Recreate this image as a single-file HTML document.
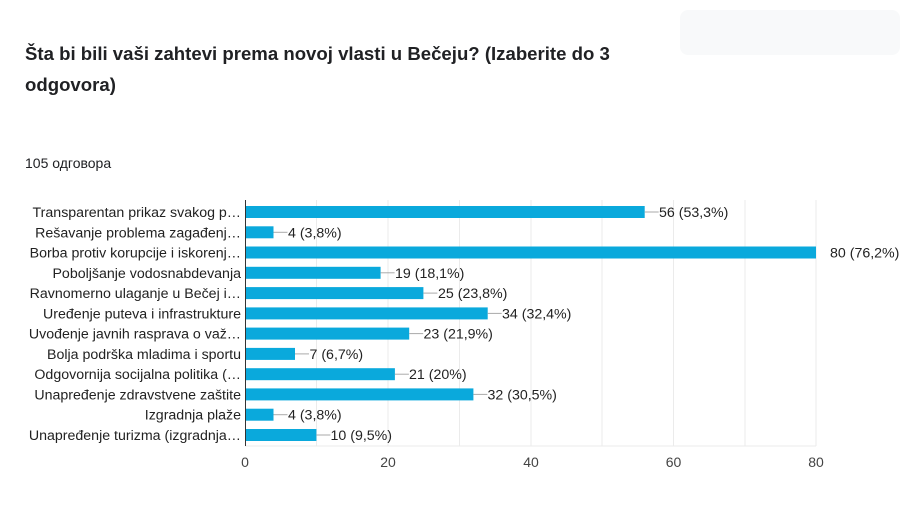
<!DOCTYPE html>
<html><head><meta charset="utf-8"><style>
body{margin:0;background:#fff;width:914px;height:516px;overflow:hidden;font-family:"Liberation Sans",Arial,sans-serif}
.t{position:absolute;left:25px;top:38px;font-size:18.6px;font-weight:bold;color:#202124;line-height:31px;width:620px}
.c{position:absolute;left:25px;top:155px;font-size:14px;color:#202124}
.g{position:absolute;left:680px;top:10px;width:220px;height:45px;background:#f8f9fa;border-radius:8px}
</style></head><body>
<div class="g"></div>
<div class="t">Šta bi bili vaši zahtevi prema novoj vlasti u Bečeju? (Izaberite do 3 odgovora)</div>
<div class="c">105 одговора</div>
<svg width="914" height="516" style="position:absolute;left:0;top:0" font-family="Liberation Sans, Arial, sans-serif" font-size="14.2" fill="#222">
<g stroke="#ebebeb" stroke-width="1">
<line x1="316.5" y1="200" x2="316.5" y2="446"/><line x1="388" y1="200" x2="388" y2="446"/><line x1="459.5" y1="200" x2="459.5" y2="446"/><line x1="531" y1="200" x2="531" y2="446"/><line x1="602" y1="200" x2="602" y2="446"/><line x1="673.5" y1="200" x2="673.5" y2="446"/><line x1="745" y1="200" x2="745" y2="446"/><line x1="816" y1="200" x2="816" y2="446"/>
<line x1="245" y1="446" x2="816" y2="446"/>
</g>
<g text-anchor="end">
<text x="241" y="217">Transparentan prikaz svakog p…</text>
<text x="241" y="237.3">Rešavanje problema zagađenj…</text>
<text x="241" y="257.5">Borba protiv korupcije i iskorenj…</text>
<text x="241" y="277.8">Poboljšanje vodosnabdevanja</text>
<text x="241" y="298.1">Ravnomerno ulaganje u Bečej i…</text>
<text x="241" y="318.4">Uređenje puteva i infrastrukture</text>
<text x="241" y="338.6">Uvođenje javnih rasprava o važ…</text>
<text x="241" y="358.9">Bolja podrška mladima i sportu</text>
<text x="241" y="379.2">Odgovornija socijalna politika (…</text>
<text x="241" y="399.4">Unapređenje zdravstvene zaštite</text>
<text x="241" y="419.7">Izgradnja plaže</text>
<text x="241" y="440">Unapređenje turizma (izgradnja…</text>
</g>
<g fill="#0aa9dc">
<rect x="245" y="206" width="399.7" height="12"/>
<rect x="245" y="226.3" width="28.5" height="12"/>
<rect x="245" y="246.5" width="571" height="12"/>
<rect x="245" y="266.8" width="135.6" height="12"/>
<rect x="245" y="287.1" width="178.4" height="12"/>
<rect x="245" y="307.4" width="242.7" height="12"/>
<rect x="245" y="327.6" width="164.2" height="12"/>
<rect x="245" y="347.9" width="50" height="12"/>
<rect x="245" y="368.2" width="149.9" height="12"/>
<rect x="245" y="388.4" width="228.4" height="12"/>
<rect x="245" y="408.7" width="28.5" height="12"/>
<rect x="245" y="429" width="71.4" height="12"/>
</g>
<g stroke="#aaa">
<line x1="644.7" y1="212" x2="658.7" y2="212"/>
<line x1="273.5" y1="232.3" x2="287.5" y2="232.3"/>
<line x1="380.6" y1="272.8" x2="394.6" y2="272.8"/>
<line x1="423.4" y1="293.1" x2="437.4" y2="293.1"/>
<line x1="487.7" y1="313.4" x2="501.7" y2="313.4"/>
<line x1="409.2" y1="333.6" x2="423.2" y2="333.6"/>
<line x1="295" y1="353.9" x2="309" y2="353.9"/>
<line x1="394.9" y1="374.2" x2="408.9" y2="374.2"/>
<line x1="473.4" y1="394.4" x2="487.4" y2="394.4"/>
<line x1="273.5" y1="414.7" x2="287.5" y2="414.7"/>
<line x1="316.4" y1="435" x2="330.4" y2="435"/>
</g>
<g>
<text x="659" y="217">56 (53,3%)</text>
<text x="288" y="237.3">4 (3,8%)</text>
<text x="830" y="257.5">80 (76,2%)</text>
<text x="395" y="277.8">19 (18,1%)</text>
<text x="438" y="298.1">25 (23,8%)</text>
<text x="502" y="318.4">34 (32,4%)</text>
<text x="423.5" y="338.6">23 (21,9%)</text>
<text x="309.5" y="358.9">7 (6,7%)</text>
<text x="409" y="379.2">21 (20%)</text>
<text x="487.5" y="399.4">32 (30,5%)</text>
<text x="288" y="419.7">4 (3,8%)</text>
<text x="330.5" y="440">10 (9,5%)</text>
</g>
<line x1="245.5" y1="200" x2="245.5" y2="446" stroke="#333"/>
<g text-anchor="middle" fill="#444" font-size="14"><text x="245" y="467">0</text><text x="388" y="467">20</text><text x="531" y="467">40</text><text x="673.5" y="467">60</text><text x="816" y="467">80</text></g>
</svg>
</body></html>
